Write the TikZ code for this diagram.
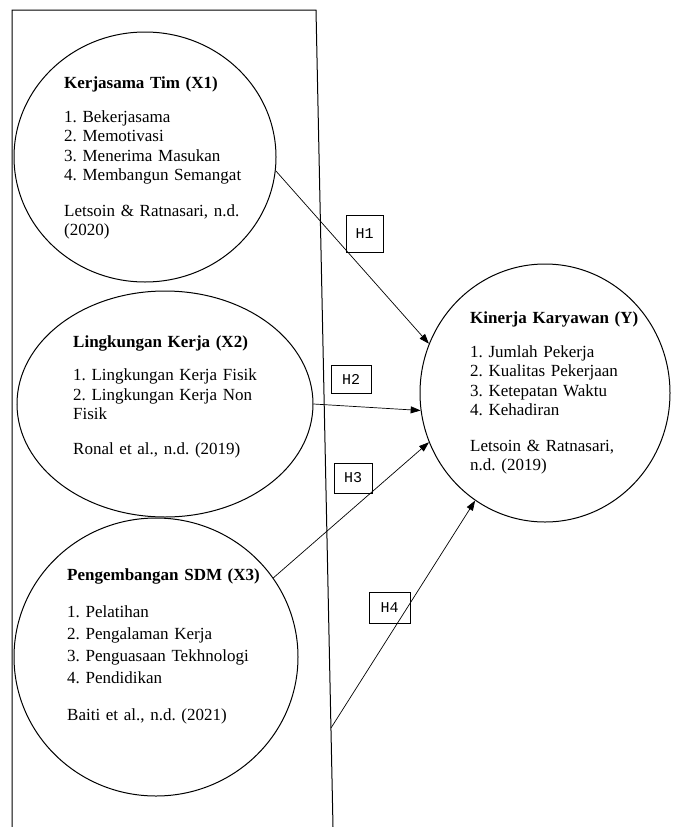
\documentclass[tikz,border=0pt]{standalone}
\usepackage{fontspec}
\setmainfont{Liberation Serif}
\newfontfamily\hfont{Liberation Mono}
\usetikzlibrary{shapes.geometric,arrows.meta}
\frenchspacing
\begin{document}
\begin{tikzpicture}[x=1pt,y=-1pt,
  circ/.style={ellipse,draw,line width=1pt,inner sep=0pt},
  txt/.style={anchor=base west,inner sep=0pt,align=left,text width=260pt,font=\fontsize{17}{19.4}\selectfont},
  txtw/.style={anchor=base west,inner sep=0pt,align=left,text width=260pt,font=\fontsize{17}{22.3}\selectfont},
  hbox/.style={draw,line width=0.9pt,inner sep=0pt,font=\hfont\fontsize{15}{15}\selectfont},
  conn/.style={line width=0.7pt,-{Triangle[length=10pt,width=7pt]}}]
\useasboundingbox (0,0) rectangle (673,827);
% frame, open at the bottom
\coordinate (fa) at (12,827);
\coordinate (fb) at (12,10);
\coordinate (fc) at (316,10);
\coordinate (fd) at (333,827);
\draw[line width=1pt] (fa) -- (fb) -- (fc) -- (fd);
% constructs
\node[circ,minimum width=262pt,minimum height=250pt] (x1) at (145,157) {};
\node[circ,minimum width=296pt,minimum height=226pt] (x2) at (165,404) {};
\node[circ,minimum width=284pt,minimum height=278pt] (x3) at (156,657) {};
\node[circ,minimum width=250pt,minimum height=258pt] (y) at (545,393) {};
% texts
\node[txt] (t1) at (64,88) {\textbf{Kerjasama Tim (X1)}\\[15pt]
1. Bekerjasama\\
2. Memotivasi\\
3. Menerima Masukan\\
4. Membangun Semangat\\[16pt]
Letsoin \& Ratnasari, n.d.\\
(2020)};
\node[txt] (t2) at (73,347) {\textbf{Lingkungan Kerja (X2)}\\[14.5pt]
1. Lingkungan Kerja Fisik\\
2. Lingkungan Kerja Non\\
Fisik\\[15.5pt]
Ronal et al., n.d. (2019)};
\node[txtw] (t3) at (67,580) {\textbf{Pengembangan SDM (X3)}\\[14.7pt]
1. Pelatihan\\
2. Pengalaman Kerja\\
3. Penguasaan Tekhnologi\\
4. Pendidikan\\[14.7pt]
Baiti et al., n.d. (2021)};
\node[txt] (t4) at (470,323) {\textbf{Kinerja Karyawan (Y)}\\[15pt]
1. Jumlah Pekerja\\
2. Kualitas Pekerjaan\\
3. Ketepatan Waktu\\
4. Kehadiran\\[16pt]
Letsoin \& Ratnasari,\\
n.d. (2019)};
% hypothesis labels
\node[hbox,minimum width=37pt,minimum height=37pt] (h1) at (364.5,233.5) {H1};
\node[hbox,minimum width=40pt,minimum height=28pt] (h2) at (351,379) {H2};
\node[hbox,minimum width=38pt,minimum height=30pt] (h3) at (353,478) {H3};
\node[hbox,minimum width=41pt,minimum height=31pt] (h4) at (389.5,607.5) {H4};
% connectors
\coordinate (p4) at (331,728);
\draw[conn] (x1.-6) -- (y.157);
\draw[conn] (x2.0) -- (y.-172);
\draw[conn] (x3.34) -- (y.-157);
\draw[conn] (p4) -- (y.-123);
\end{tikzpicture}
\end{document}
